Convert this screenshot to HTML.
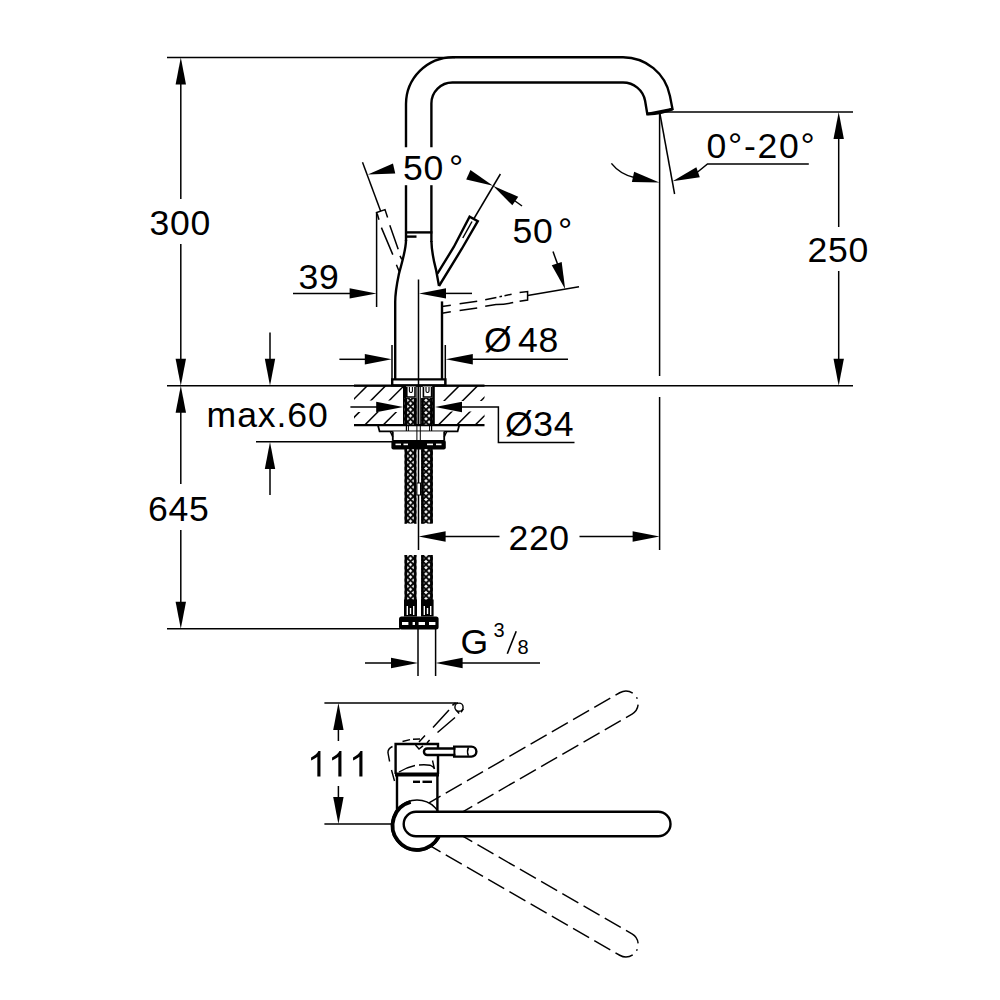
<!DOCTYPE html>
<html><head><meta charset="utf-8"><title>diagram</title>
<style>
html,body{margin:0;padding:0;background:#fff;}
svg{display:block}
text{font-family:"Liberation Sans",sans-serif;fill:#000}
</style></head><body>
<svg width="1000" height="1000" viewBox="0 0 1000 1000">
<rect width="1000" height="1000" fill="#fff"/>
<line x1="167" y1="57.4" x2="455" y2="57.4" stroke="#000" stroke-width="1.5" />
<line x1="167" y1="385.7" x2="853" y2="385.7" stroke="#000" stroke-width="1.5" />
<line x1="167" y1="628.8" x2="400" y2="628.8" stroke="#000" stroke-width="1.5" />
<polygon points="180.80,57.40 186.00,84.40 175.60,84.40" fill="#000"/>
<line x1="180.8" y1="82" x2="180.8" y2="199" stroke="#000" stroke-width="1.5" />
<line x1="180.8" y1="244" x2="180.8" y2="361" stroke="#000" stroke-width="1.5" />
<polygon points="180.80,385.70 175.60,358.70 186.00,358.70" fill="#000"/>
<polygon points="180.80,385.70 186.00,412.70 175.60,412.70" fill="#000"/>
<line x1="180.8" y1="410" x2="180.8" y2="484" stroke="#000" stroke-width="1.5" />
<line x1="180.8" y1="530" x2="180.8" y2="604" stroke="#000" stroke-width="1.5" />
<polygon points="180.80,628.80 175.60,601.80 186.00,601.80" fill="#000"/>
<text x="149.6" y="235" font-size="35.6" text-anchor="start"  letter-spacing="0.7">300</text>
<text x="148" y="521" font-size="35.6" text-anchor="start"  letter-spacing="0.7">645</text>
<line x1="664" y1="112" x2="853" y2="112" stroke="#000" stroke-width="1.5" />
<polygon points="838.70,112.00 843.90,139.00 833.50,139.00" fill="#000"/>
<line x1="838.7" y1="136" x2="838.7" y2="227" stroke="#000" stroke-width="1.5" />
<line x1="838.7" y1="271" x2="838.7" y2="361" stroke="#000" stroke-width="1.5" />
<polygon points="838.70,385.70 833.50,358.70 843.90,358.70" fill="#000"/>
<text x="807.6" y="262.2" font-size="35.6" text-anchor="start"  letter-spacing="0.7">250</text>
<line x1="659.6" y1="113" x2="659.6" y2="376" stroke="#000" stroke-width="1.5" />
<line x1="659.6" y1="397" x2="659.6" y2="550" stroke="#000" stroke-width="1.5" />
<line x1="659.8" y1="113" x2="674.6" y2="194" stroke="#000" stroke-width="1.5" />
<text x="706.6" y="157.5" font-size="35.6" text-anchor="start"  letter-spacing="1.7">0°-20°</text>
<path d="M808.8,163.9 H707.5 L697,172.5" fill="none" stroke="#000" stroke-width="1.5" />
<polygon points="672.60,181.20 696.35,167.35 699.80,177.16" fill="#000"/>
<path d="M611.4,163.4 Q620,174.4 635,177.8" fill="none" stroke="#000" stroke-width="1.5" />
<polygon points="659.40,182.60 631.91,181.88 634.15,171.72" fill="#000"/>
<line x1="293" y1="293.4" x2="352" y2="293.4" stroke="#000" stroke-width="1.5" />
<polygon points="376.60,293.40 349.60,298.60 349.60,288.20" fill="#000"/>
<line x1="376.6" y1="212" x2="376.6" y2="307" stroke="#000" stroke-width="1.5" />
<polygon points="419.00,293.40 446.00,288.20 446.00,298.60" fill="#000"/>
<line x1="444" y1="293.4" x2="472" y2="293.4" stroke="#000" stroke-width="1.5" />
<text x="298.6" y="289.2" font-size="35.6" text-anchor="start"  letter-spacing="0.7">39</text>
<line x1="418.5" y1="279.6" x2="418.5" y2="550" stroke="#000" stroke-width="1.5" />
<line x1="339.4" y1="359.3" x2="368" y2="359.3" stroke="#000" stroke-width="1.5" />
<polygon points="391.80,359.30 364.80,364.50 364.80,354.10" fill="#000"/>
<polygon points="445.80,359.30 472.80,354.10 472.80,364.50" fill="#000"/>
<line x1="470" y1="359.3" x2="568" y2="359.3" stroke="#000" stroke-width="1.5" />
<line x1="392" y1="345" x2="392" y2="385" stroke="#000" stroke-width="1.5" />
<line x1="445.3" y1="345" x2="445.3" y2="385" stroke="#000" stroke-width="1.5" />
<text x="484" y="352.4" font-size="35.6" text-anchor="start"  letter-spacing="0.7">Ø</text>
<text x="518" y="352.4" font-size="35.6" text-anchor="start"  letter-spacing="0.7">48</text>
<line x1="270" y1="332.5" x2="270" y2="361" stroke="#000" stroke-width="1.5" />
<polygon points="270.00,385.70 264.80,358.70 275.20,358.70" fill="#000"/>
<polygon points="270.00,442.00 275.20,469.00 264.80,469.00" fill="#000"/>
<line x1="270" y1="466" x2="270" y2="495" stroke="#000" stroke-width="1.5" />
<line x1="256" y1="441.8" x2="392" y2="441.8" stroke="#000" stroke-width="1.5" />
<text x="206.6" y="427" font-size="35.6" text-anchor="start"  letter-spacing="0.9">max.60</text>
<line x1="350.4" y1="407" x2="379" y2="407" stroke="#000" stroke-width="1.5" />
<polygon points="403.20,407.00 376.20,412.20 376.20,401.80" fill="#000"/>
<polygon points="435.00,407.00 462.00,401.80 462.00,412.20" fill="#000"/>
<path d="M459,407 H498.4 V442.4 H574.5" fill="none" stroke="#000" stroke-width="1.5" />
<text x="505" y="436" font-size="35.6" text-anchor="start"  letter-spacing="0.7">Ø34</text>
<polygon points="418.60,536.50 445.60,531.30 445.60,541.70" fill="#000"/>
<line x1="443" y1="536.5" x2="499.5" y2="536.5" stroke="#000" stroke-width="1.5" />
<line x1="579.5" y1="536.5" x2="635" y2="536.5" stroke="#000" stroke-width="1.5" />
<polygon points="659.60,536.50 632.60,541.70 632.60,531.30" fill="#000"/>
<text x="508.4" y="550" font-size="35.6" text-anchor="start"  letter-spacing="0.7">220</text>
<line x1="365" y1="663" x2="393" y2="663" stroke="#000" stroke-width="1.5" />
<polygon points="418.00,663.00 391.00,668.20 391.00,657.80" fill="#000"/>
<polygon points="435.60,663.00 462.60,657.80 462.60,668.20" fill="#000"/>
<line x1="460" y1="663" x2="540" y2="663" stroke="#000" stroke-width="1.5" />
<line x1="418" y1="629" x2="418" y2="676" stroke="#000" stroke-width="1.5" />
<line x1="435.6" y1="629" x2="435.6" y2="676" stroke="#000" stroke-width="1.5" />
<text x="460.5" y="653.5" font-size="35.6" text-anchor="start"  letter-spacing="0.7">G</text>
<text x="493.6" y="637" font-size="20" text-anchor="start"  letter-spacing="0.7">3</text>
<line x1="507.3" y1="653.8" x2="516.2" y2="631.2" stroke="#000" stroke-width="1.6" />
<text x="517.4" y="653.6" font-size="20" text-anchor="start"  letter-spacing="0.7">8</text>
<line x1="324.4" y1="703" x2="458" y2="703" stroke="#000" stroke-width="1.5" />
<line x1="324.4" y1="824" x2="391" y2="824" stroke="#000" stroke-width="1.5" />
<polygon points="338.40,703.00 343.60,730.00 333.20,730.00" fill="#000"/>
<line x1="338.4" y1="727" x2="338.4" y2="741" stroke="#000" stroke-width="1.5" />
<line x1="338.4" y1="786" x2="338.4" y2="800" stroke="#000" stroke-width="1.5" />
<polygon points="338.40,824.00 333.20,797.00 343.60,797.00" fill="#000"/>
<path transform="translate(307.2,776.6) scale(0.017383,-0.017383)" d="M763,0 H583 V1147 Q518,1085 412.5,1023 Q307,961 223,930 V1104 Q374,1175 487,1276 Q600,1377 647,1472 H763 Z" fill="#000"/>
<path transform="translate(328.2,776.6) scale(0.017383,-0.017383)" d="M763,0 H583 V1147 Q518,1085 412.5,1023 Q307,961 223,930 V1104 Q374,1175 487,1276 Q600,1377 647,1472 H763 Z" fill="#000"/>
<path transform="translate(349.2,776.6) scale(0.017383,-0.017383)" d="M763,0 H583 V1147 Q518,1085 412.5,1023 Q307,961 223,930 V1104 Q374,1175 487,1276 Q600,1377 647,1472 H763 Z" fill="#000"/>
<text x="403" y="180.2" font-size="35.6" text-anchor="start"  letter-spacing="0.7">50</text>
<text x="449" y="180.2" font-size="35.6" text-anchor="start"  letter-spacing="0.7">°</text>
<text x="512.6" y="243" font-size="35.6" text-anchor="start"  letter-spacing="0.7">50</text>
<text x="558" y="243" font-size="35.6" text-anchor="start"  letter-spacing="0.7">°</text>
<line x1="362.5" y1="162.3" x2="380.6" y2="211" stroke="#000" stroke-width="1.5" />
<polygon points="367.80,174.50 392.97,163.44 395.28,173.58" fill="#000"/>
<line x1="474" y1="218.5" x2="500.4" y2="174" stroke="#000" stroke-width="1.5" />
<polygon points="493.00,185.80 466.22,179.55 470.46,170.05" fill="#000"/>
<polygon points="493.00,185.80 518.22,196.75 512.35,205.33" fill="#000"/>
<line x1="513" y1="199.5" x2="522" y2="206" stroke="#000" stroke-width="1.5" />
<line x1="553" y1="251.6" x2="559" y2="268" stroke="#000" stroke-width="1.5" />
<polygon points="565.20,289.20 551.78,265.20 561.66,261.93" fill="#000"/>
<line x1="527.6" y1="295.6" x2="579" y2="286.7" stroke="#000" stroke-width="1.5" />
<path d="M406,147.3 V104 A47,47 0 0 1 453,57.2 H623 A47.8,47.8 0 0 1 669.92,95.88 L672.5,109 L647.3,114 L645.09,100.71 A22.5,22.5 0 0 0 623,82.5 H452.5 A21,21 0 0 0 431.4,103.5 V147.3" fill="none" stroke="#000" stroke-width="2.4" stroke-linejoin="miter"/>
<path d="M647.3,114 Q661,114.2 672.5,109" fill="none" stroke="#000" stroke-width="2.8" />
<line x1="406" y1="185.2" x2="406" y2="241" stroke="#000" stroke-width="2.4" />
<line x1="431.4" y1="185.2" x2="431.4" y2="242" stroke="#000" stroke-width="2.4" />
<line x1="405" y1="232.4" x2="432.4" y2="232.4" stroke="#000" stroke-width="2.4" />
<line x1="406" y1="236.6" x2="416.5" y2="236.6" stroke="#000" stroke-width="2.4" />
<path d="M406,240 C406,250 402,262 398.8,274.4 C397,283 395.2,292 395.2,302 V379" fill="none" stroke="#000" stroke-width="2.4" />
<path d="M431.4,241 C431.6,250 434,262 436,269.6 L439,286" fill="none" stroke="#000" stroke-width="2.4" />
<line x1="442" y1="301.4" x2="442" y2="379" stroke="#000" stroke-width="2.4" />
<path d="M392.2,379.4 H445.4 V385.4 H392.2 Z" fill="none" stroke="#000" stroke-width="2.4" />
<path d="M437.4,273.6 L453.8,247 L469.6,216.6 L477.8,221.2 L462,248.5 L439,286" fill="none" stroke="#000" stroke-width="2.4" stroke-linejoin="miter"/>
<line x1="462.8" y1="238" x2="472" y2="221.5" stroke="#000" stroke-width="1.5" />
<path d="M376.8,214 L376.6,212.6 L385,209.6 L387.6,217.6" fill="none" stroke="#000" stroke-width="1.5" />
<path d="M377.2,213.8 L379,219.8 M381.4,227.6 L392.8,254.6 M396.4,264.8 L399.4,272" fill="none" stroke="#000" stroke-width="1.5" />
<path d="M389.8,225.2 L398.2,249.2 M400,255.8 L401.8,259.4" fill="none" stroke="#000" stroke-width="1.5" />
<path d="M442,306.5 L450.8,305.2 M459.6,303.8 L477.2,301.3 M485.2,299.7 L496.4,297.4 M499.5,296.7 L502,296.2 M504.5,295.7 L511.6,294.2 M519.6,292.6 L527.6,291.6 V300 L519.6,301.2" fill="none" stroke="#000" stroke-width="1.5" />
<path d="M442,313.2 L450.8,311.8 M459.6,310.6 L477.2,308 M485.2,306.2 L496,304.5 Q505,304.6 513.2,302.6" fill="none" stroke="#000" stroke-width="1.5" />
<defs>
<pattern id="xh" patternUnits="userSpaceOnUse" width="6.2" height="6.2" x="407.4" y="558.4"><rect width="6.2" height="6.2" fill="#fff"/><path d="M-1,-1 L7.2,7.2 M-1,7.2 L7.2,-1 M-1,5.2 L1,7.2 M5.2,-1 L7.2,1 M-1,1 L1,-1 M5.2,7.2 L7.2,5.2" stroke="#000" stroke-width="1.9" fill="none"/></pattern>
<clipPath id="ctL"><path d="M354,386 H403 V400.5 H354 Z M354,412 H403 V425 H354 Z"/></clipPath>
<clipPath id="ctR"><path d="M435,386 H484.5 V401 H435 Z M435,411.5 H484.5 V425 H435 Z"/></clipPath>
</defs>
<g clip-path="url(#ctL)">
<line x1="323" y1="430" x2="373" y2="380" stroke="#000" stroke-width="1.5" />
<line x1="341.4" y1="430" x2="391.4" y2="380" stroke="#000" stroke-width="1.5" />
<line x1="359.79999999999995" y1="430" x2="409.79999999999995" y2="380" stroke="#000" stroke-width="1.5" />
<line x1="378.20000000000005" y1="430" x2="428.20000000000005" y2="380" stroke="#000" stroke-width="1.5" />
</g>
<g clip-path="url(#ctR)">
<line x1="415" y1="430" x2="465" y2="380" stroke="#000" stroke-width="1.5" />
<line x1="433.4" y1="430" x2="483.4" y2="380" stroke="#000" stroke-width="1.5" />
<line x1="451.79999999999995" y1="430" x2="501.79999999999995" y2="380" stroke="#000" stroke-width="1.5" />
<line x1="470.20000000000005" y1="430" x2="520.2" y2="380" stroke="#000" stroke-width="1.5" />
</g>
<line x1="354" y1="385.7" x2="484.5" y2="385.7" stroke="#000" stroke-width="2.2" />
<line x1="354" y1="425.2" x2="484.5" y2="425.2" stroke="#000" stroke-width="2.2" />
<rect x="403" y="386" width="3.2" height="39.5" fill="#000"/>
<rect x="431.6" y="386" width="3.2" height="39.5" fill="#000"/>
<rect x="404.6" y="398" width="11.799999999999955" height="27" fill="url(#xh)"/>
<rect x="404.6" y="398" width="2.6" height="27" fill="#000"/>
<rect x="413.79999999999995" y="398" width="2.6" height="27" fill="#000"/>
<rect x="421.2" y="398" width="11.600000000000023" height="27" fill="url(#xh)"/>
<rect x="421.2" y="398" width="2.6" height="27" fill="#000"/>
<rect x="430.2" y="398" width="2.6" height="27" fill="#000"/>
<rect x="406.2" y="386.5" width="9.4" height="11.5" fill="#fff"/>
<path d="M406.8,387 V397 H415.0 V387" fill="none" stroke="#000" stroke-width="1.6" />
<path d="M409.4,387 V391 A1.5,1.5 0 0 0 412.4,391 V387" fill="none" stroke="#000" stroke-width="1.1" />
<rect x="422.8" y="386.5" width="9.4" height="11.5" fill="#fff"/>
<path d="M423.40000000000003,387 V397 H431.6 V387" fill="none" stroke="#000" stroke-width="1.6" />
<path d="M426.0,387 V391 A1.5,1.5 0 0 0 429.0,391 V387" fill="none" stroke="#000" stroke-width="1.1" />
<line x1="416.9" y1="387" x2="416.9" y2="440" stroke="#000" stroke-width="1.0" />
<line x1="420.3" y1="387" x2="420.3" y2="440" stroke="#000" stroke-width="1.0" />
<path d="M378,425.4 L379.6,431.4 H457.6 L459.2,425.4 Z" fill="#fff" stroke="#000" stroke-width="1.8" />
<rect x="392.8" y="431.4" width="51.4" height="9" fill="#fff"/>
<line x1="406.4" y1="426" x2="406.4" y2="431" stroke="#000" stroke-width="1.2" />
<line x1="408.4" y1="426" x2="408.4" y2="431" stroke="#000" stroke-width="1.0" />
<line x1="429.6" y1="426" x2="429.6" y2="431" stroke="#000" stroke-width="1.0" />
<line x1="431.6" y1="426" x2="431.6" y2="431" stroke="#000" stroke-width="1.2" />
<line x1="416.9" y1="425" x2="416.9" y2="449" stroke="#000" stroke-width="1.0" />
<line x1="420.3" y1="425" x2="420.3" y2="449" stroke="#000" stroke-width="1.0" />
<path d="M390.2,431.4 L392.8,437 M446.8,431.4 L444.2,437" fill="none" stroke="#000" stroke-width="1.4" />
<path d="M392.8,431.4 V440.6 M444.2,431.4 V440.6" fill="none" stroke="#000" stroke-width="1.8" />
<rect x="391.4" y="440" width="54.4" height="9.4" rx="2" fill="#000"/>
<rect x="395.5" y="443.6" width="5.5" height="1.6" fill="#fff"/>
<rect x="403.5" y="443.6" width="4.5" height="1.6" fill="#fff"/>
<rect x="427" y="443.6" width="6" height="1.6" fill="#fff"/>
<rect x="436" y="443.6" width="5.5" height="1.6" fill="#fff"/>
<rect x="404.6" y="449" width="11.799999999999955" height="74.60000000000002" fill="url(#xh)"/>
<rect x="404.6" y="449" width="2.6" height="74.60000000000002" fill="#000"/>
<rect x="413.79999999999995" y="449" width="2.6" height="74.60000000000002" fill="#000"/>
<rect x="421.2" y="449" width="11.600000000000023" height="74.60000000000002" fill="url(#xh)"/>
<rect x="421.2" y="449" width="2.6" height="74.60000000000002" fill="#000"/>
<rect x="430.2" y="449" width="2.6" height="74.60000000000002" fill="#000"/>
<rect x="416.9" y="483" width="3.6" height="12" fill="#fff" stroke="#000" stroke-width="1"/>
<rect x="404.6" y="555" width="11.799999999999955" height="45" fill="url(#xh)"/>
<rect x="404.6" y="555" width="2.6" height="45" fill="#000"/>
<rect x="413.79999999999995" y="555" width="2.6" height="45" fill="#000"/>
<rect x="421.2" y="555" width="11.600000000000023" height="45" fill="url(#xh)"/>
<rect x="421.2" y="555" width="2.6" height="45" fill="#000"/>
<rect x="430.2" y="555" width="2.6" height="45" fill="#000"/>
<rect x="404" y="599.5" width="13" height="17" fill="#000"/>
<rect x="406.6" y="606" width="1.4" height="9" fill="#fff"/>
<rect x="409.8" y="608" width="1.4" height="6" fill="#fff"/>
<rect x="413" y="606" width="1.4" height="9" fill="#fff"/>
<rect x="421" y="599.5" width="12.600000000000023" height="17" fill="#000"/>
<rect x="423.6" y="606" width="1.4" height="9" fill="#fff"/>
<rect x="426.8" y="608" width="1.4" height="6" fill="#fff"/>
<rect x="430" y="606" width="1.4" height="9" fill="#fff"/>
<rect x="399" y="616.4" width="39.6" height="13.2" rx="2.5" fill="#000"/>
<rect x="402" y="622" width="6.399999999999977" height="3" fill="#fff"/>
<rect x="412.6" y="622" width="2.3999999999999773" height="3" fill="#fff"/>
<rect x="418.6" y="622" width="6.399999999999977" height="3" fill="#fff"/>
<rect x="429" y="622" width="6.399999999999977" height="3" fill="#fff"/>
<g transform="rotate(-30 417 824)">
<path d="M438,811.7 H658.2 A12.3,12.3 0 0 1 670.5,824" fill="none" stroke="#000" stroke-width="1.45" stroke-dasharray="18.5 6" stroke-dashoffset="5.2"/>
<path d="M455.2,836.3 H658.2 A12.3,12.3 0 0 0 670.5,824" fill="none" stroke="#000" stroke-width="1.45" stroke-dasharray="18.5 6"/>
</g>
<g transform="rotate(30 417 824)">
<path d="M438,836.3 H658.2 A12.3,12.3 0 0 0 670.5,824" fill="none" stroke="#000" stroke-width="1.45" stroke-dasharray="18.5 6" stroke-dashoffset="5.2"/>
<path d="M455.2,811.7 H658.2 A12.3,12.3 0 0 1 670.5,824" fill="none" stroke="#000" stroke-width="1.45" stroke-dasharray="18.5 6"/>
</g>
<path d="M397,775 V812 M437.4,775 V812" fill="none" stroke="#000" stroke-width="2.4" />
<path d="M395.6,774 V744 H438 V774" fill="none" stroke="#000" stroke-width="2.4" />
<line x1="395" y1="774.5" x2="439" y2="774.5" stroke="#000" stroke-width="4.2" />
<line x1="413" y1="781.8" x2="420" y2="781.8" stroke="#000" stroke-width="2.4" />
<line x1="422.5" y1="781.8" x2="432" y2="781.8" stroke="#000" stroke-width="2.4" />
<circle cx="417" cy="825.5" r="25.4" fill="none" stroke="#000" stroke-width="1.5"/>
<path d="M410.68,801.93 A24.4,24.4 0 1 0 438.54,836.96" fill="none" stroke="#000" stroke-width="3.8" />
<g transform="rotate(0 417 824)">
<path d="M416,811.7 H658.2 A12.3,12.3 0 0 1 658.2,836.3 H416 A12.3,12.3 0 0 1 416,811.7 Z" fill="#fff" stroke="#000" stroke-width="2.4" />
</g>
<path d="M427.2,748.5 H454.2 V746.6 H471.4 A5,5 0 0 1 471.4,756.6 H454.2 V755 H427.2 A3.25,3.25 0 0 1 427.2,748.5 Z" fill="#fff" stroke="#000" stroke-width="2.4" />
<line x1="454.4" y1="747.5" x2="454.4" y2="755.8" stroke="#000" stroke-width="2.0" />
<path d="M468.4,747.4 Q466.6,751.6 468.4,755.8" fill="none" stroke="#000" stroke-width="1.5" />
<circle cx="459" cy="707.2" r="4.1" fill="none" stroke="#000" stroke-width="1.4"/>
<path d="M419,742 L425,735.5 M433,727.5 L449,710 M452.4,705.4 L455.6,702.8" fill="none" stroke="#000" stroke-width="1.5" />
<path d="M427,743 L429.6,740 M437.5,732.5 L455,717.5 M456,710 L459.2,713.6 M461,712.2 L463.4,708.8" fill="none" stroke="#000" stroke-width="1.5" />
<path d="M392.5,746.5 Q387.5,749 388,753 L389.6,761.5 M391.5,770 L394.5,781" fill="none" stroke="#000" stroke-width="1.4" />
<path d="M399,772 Q406,767.5 415,765.5 M419,765 Q425,764.4 430,765.2 Q433.6,766.5 434.5,769 M432.5,760.5 L434.5,769" fill="none" stroke="#000" stroke-width="1.4" />
<path d="M402.5,741.5 L410,739.6 M413,739.2 L420,739" fill="none" stroke="#000" stroke-width="1.4" />
<path d="M415.5,745 L419,749 L423,745.8" fill="none" stroke="#000" stroke-width="1.5" />
</svg>
</body></html>
